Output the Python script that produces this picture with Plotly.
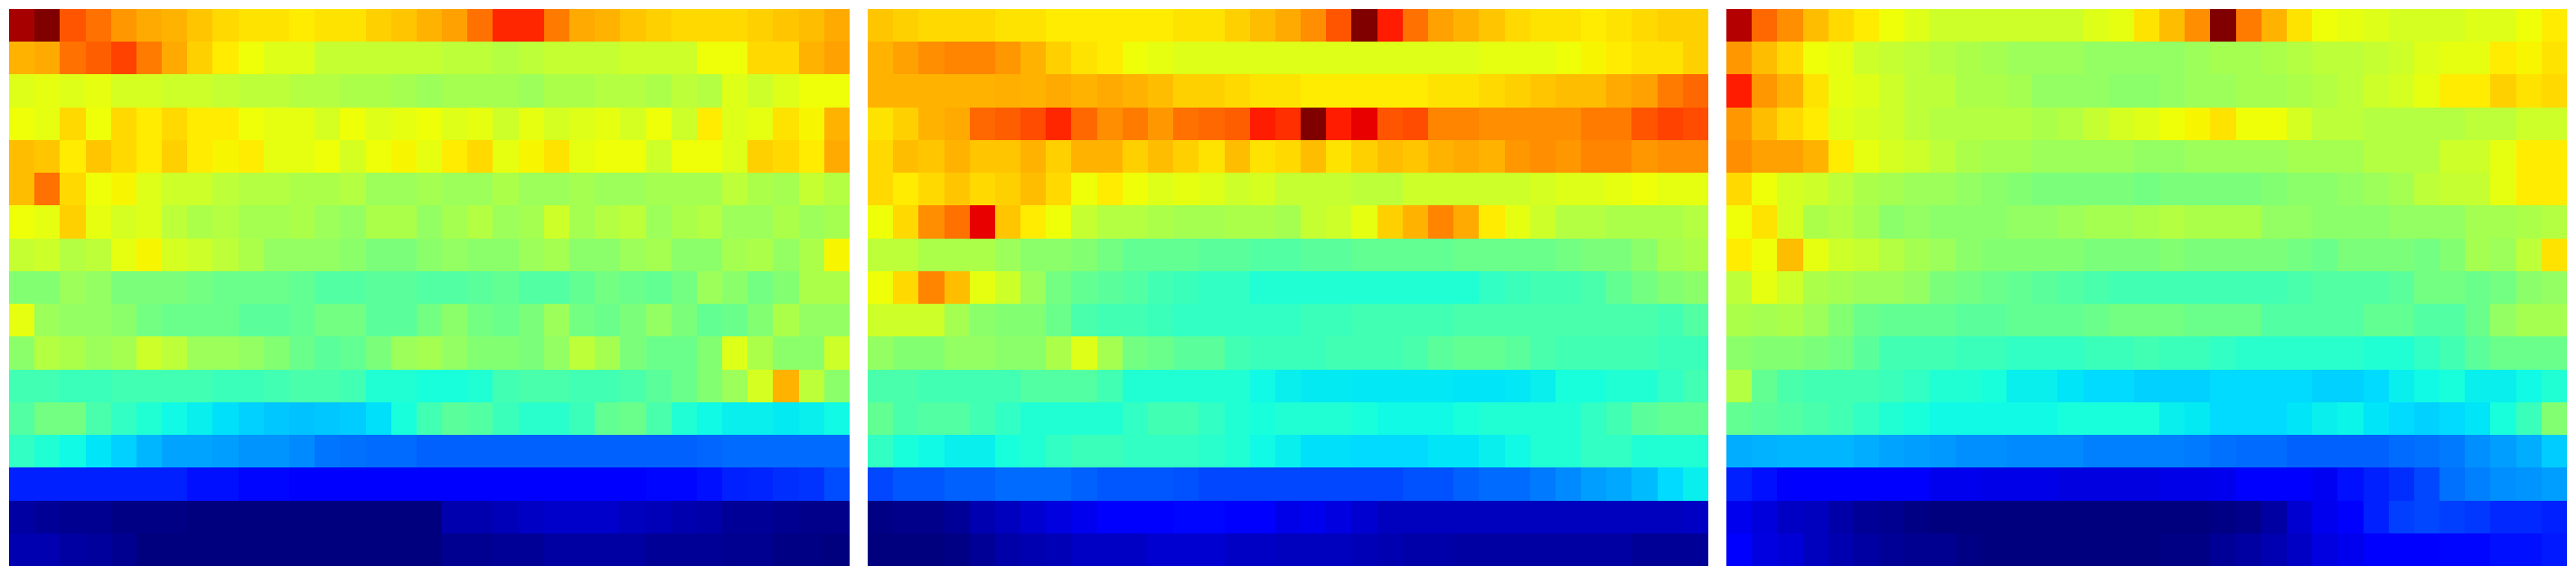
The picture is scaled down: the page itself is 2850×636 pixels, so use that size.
import plotly.graph_objects as go

# Values (0-100 on the colour scale), one row per list.
panel_a = [
 [97,100,82,79,75,73,72,70,68,67,67,66,67,67,69,70,72,74,79,87,87,78,73,72,70,69,68,68,68,69,70,71,73],
 [72,73,79,81,84,78,73,69,66,64,62,62,59,59,59,59,59,58,58,57,58,59,59,59,60,60,60,64,64,68,68,72,74],
 [62,63,62,63,61,61,60,60,59,58,58,57,57,56,56,55,54,55,55,55,54,56,56,57,57,56,58,57,62,60,62,64,64],
 [64,63,68,64,68,66,68,66,66,64,63,63,61,64,62,63,64,62,63,60,63,61,62,63,61,64,60,66,62,63,67,65,72],
 [71,70,66,70,68,66,69,66,65,66,63,63,64,61,64,65,63,66,68,63,65,67,63,64,64,60,64,64,62,69,68,66,73],
 [71,79,68,64,65,62,60,60,58,57,57,56,56,57,54,54,55,54,54,56,54,54,55,54,54,55,55,55,58,56,55,59,57],
 [64,63,69,63,61,62,58,56,57,55,55,56,54,53,56,56,53,55,57,54,55,60,55,57,58,54,56,57,54,54,56,54,55],
 [59,60,57,58,63,65,61,60,58,56,53,53,53,52,50,50,52,53,52,52,54,55,52,52,54,55,52,52,55,56,53,56,65],
 [51,51,54,53,50,50,50,49,48,48,48,47,45,45,46,46,45,45,46,47,45,45,47,49,48,47,49,54,52,49,51,56,56],
 [63,54,53,53,52,49,48,48,48,46,46,47,49,49,46,46,49,52,49,48,50,54,49,48,50,53,50,47,48,51,56,53,53],
 [52,57,56,54,55,60,58,54,54,53,51,48,46,47,50,54,55,53,51,51,50,53,58,55,50,48,48,51,62,56,52,52,60],
 [43,43,42,42,43,43,43,43,42,42,43,44,44,43,39,39,38,38,39,43,44,44,43,43,44,46,48,51,54,61,72,58,52],
 [45,49,49,44,41,39,37,36,34.5,33,32,31.5,32,32.5,34.5,38,43,46,45,42,40,40,42,47,48,44,39,37,36,36,35.5,36,37],
 [41,39,37,35,33,30.5,28.5,28.5,28,27,27,26,24,23.5,23,23,22,22,22,22,22,22,22,22,22,22,22,22.5,23,23,23,23,23],
 [15.6,15.6,15.6,15.6,15.6,15.6,15.6,14,14,13,13,12,12,12,12,12,12,12,12,12,12,12,12,12,12,13,13,14,15.6,16,17,17.5,20],
 [3,2,1.5,1.5,0.5,0.5,0.5,0,0,0,0,0,0,0,0,0,0,4,4,5,6,6.5,6.5,6.5,5.5,5,4,3.5,2,2,1.5,1,1],
 [4.3,4.3,3,2.5,1.5,0,0,0,0,0,0,0,0,0,0,0,0,1.5,1.5,2,2,3,3,3,3,2,2,2,1.5,1.5,0.5,0.5,0],
]

panel_b = [
 [70,69,68,68,68,67,67,66,66,66,66,66,67,67,69,71,73,76,82,100,88,79,74,72,70,68,67,67,66,67,68,69,69],
 [72,74,76,77,77,75,72,69,67,66,64,63,62,62,62,62,62,62,62,62,62,62,62,62,63,63,63,64,65,66,67,67,69],
 [72,72,72,72,72,72.5,72,73,72,73,72,71,69,69,68,67,67,66,66,66,66,66,67,67,68,69,70,71,71,73,74,78,80],
 [67,69,72,73,80,81,83,87,80,76,78,75,79,80,81,88,86,100,88,92,82,83,77,77,76,76,76,76,78,78,82,84,83],
 [68,71,70,72,70,70,72,69,72,72,69,71,69,67,71,67,68,71,67,69,71,70,72,73,72,75,76,75,77,77,75,76,76],
 [68,66,68,70,68,69,71,68,64,66,64,62,63,62,60,61,59,59,59,58,58,60,60,60,60,60,61,62,62,63,64,63,63],
 [64,68,76,79,92,70,66,64,59,57,57,56,55,55,56,56,55,59,60,63,69,72,77,73,66,63,60,57,57,56,56,56,57],
 [58,58,56,56,56,54,52,52,51,49,47,47,47,46,46,45,45,46,46,47,47,47,47,48,48,48,48,49,50,50,52,55,56],
 [64,68,77,71,63,60,54,49,47,46,45,43,42,41,41,39,39,39,39,39,39,39,39,39,41,42,43,43,44,47,49,51,52],
 [60,60,60,55,52,51,51,48,44,43,43,42,41,41,41,41,41,42,42,43,43,43,43,44,44,44,44,44,44,44,44,43,45],
 [53,51,51,53,53,52,52,56,62,55,49,48,46,46,43,42,42,42,43,43,43,44,46,47,47,46,44,43,43,43,43,42,42],
 [44,44,43,43,43,43,45,45,45,43,39,39,39,39,39,37,36,35.5,35.5,35.3,35.3,35.3,35.3,35,35,35.3,36,38,38,39,39,41,43],
 [47,44,45,45,43,41,39,39,39,39,41,43,43,41,39,38,39,39,39,38,37,37,37,38,39,39,39,39,41,43,46,47,47],
 [41,38,37,36,36,38,39,41,42,42,41,41,41,40,39,37,36,34.5,34.5,34,34,34,35,35,36,37,39,39,41,41,39,39,39],
 [19.5,21,21,22,22,23,23,23,22,21,21,21,20.5,19.5,19.5,19.5,19.5,19.5,19.5,19.5,19.5,20.5,20.5,22,23,23,24.5,26,28,29,31,34,36],
 [0.5,1,1,2,4.3,5.5,7,8.3,9.5,11.5,11.5,12,13,13,12,12,9,9.5,8.3,7,5.5,5.5,5.5,5.5,5.5,5.5,5.5,5.5,5.5,5.5,5.5,5.5,6],
 [0,0,0,0.5,2,3.5,4.3,4.8,6,6,6,7,7,7,6,6,5.5,5.5,5.5,4.8,4.3,3.5,3.5,3,3,3,3,3,3,3,2,2,2],
]

panel_c = [
 [96,80,76,71,68,66,64,62,60,60,60,60,60,60,62,63,67,71,76,100,78,72,67,64,63,62,61,61,61,62,62,64,66],
 [75,71,68,64,63,60,59,58,57,56,55,54,54,54,53,53,53,53,54,55,55,56,57,58,58,59,60,62,63,63,66,65,67],
 [88,75,72,67,63,62,60,58,58,56,56,55,53,53,53,52,52,53,54,54,55,55,56,57,58,60,61,63,66,66,69,67,68],
 [75,71,68,66,62,61,60,58,57,57,57,57,56,57,59,61,62,64,65,67,64,64,61,58,58,57,57,57,57,58,58,60,60],
 [76,74,74,72,66,63,61,60,58,56,55,55,54,54,54,54,53,53,54,54,54,54,55,55,55,57,57,57,60,60,63,66,66],
 [68,64,61,60,58,56,55,54,54,53,52,51,50,50,50,50,49,50,50,50,50,51,52,52,53,54,55,58,59,59,63,66,66],
 [64,67,61,56,57,55,52,53,52,52,52,53,53,54,55,55,56,57,56,56,56,53,53,52,52,52,53,53,53,55,55,56,57],
 [66,64,71,63,60,59,57,55,54,52,51,51,51,51,50,50,50,51,50,50,50,50,49,48,50,50,50,49,51,55,54,58,67],
 [58,63,60,56,55,54,54,53,50,49,48,47,46,45,44,43,43,43,43,43,43,43,44,45,45,45,46,49,49,48,49,52,53],
 [56,55,56,54,51,48,47,47,47,46,46,47,47,47,48,49,49,49,48,48,48,45,45,45,45,47,47,45,45,48,53,55,55],
 [52,51,51,50,49,46,43,43,43,42,42,41,41,41,42,42,43,42,42,41,40,40,40,40,40,39,39,41,43,46,48,48,48],
 [57,47,44,43,43,43,42,41,39,39,38,36,36,35,34,34,33,33,33,34,34,34,34,33,33,34,36,37,38,36,36,37,39],
 [47,46,45,44,43,41,39,38,37,37,37,37,37,38,38,38,38,36,35.5,34,34,34,35,36,36.5,35,34,33,34,35,38,42,51],
 [29.5,30,30.5,30.5,30.5,29.5,28.5,28,27.5,26.5,26.5,26,26,26,25,25,25,25,24.5,23.5,23,23,22,22,22,22,23,23.5,24.5,26.5,28,29.5,32.5],
 [15.6,14,12.5,12,12,12,12,12,9.5,9.5,9,9,9,8.3,8.3,8.3,8.3,9,9,9.5,12,12,12,10,14,15.6,17,19.5,23.5,25,26.5,27,28],
 [9.5,8,6,5.5,3.5,2,1.5,0.5,0,0,0,0,0,0,0,0,0,0,0,0.5,1,3,7,9.5,11.5,15.6,18.7,19.5,18.7,18,16.4,16.4,15.6],
 [11,8.3,7.5,5.5,4.3,3,2,1.5,1.5,0.5,0,0,0,0,0,0,0,0.5,0.5,2,3,4.3,6,8.3,9.5,11.5,11.5,12,13,13,14,14,15],
]

panels = [panel_a, panel_b, panel_c]
x_spans = [(10, 940), (960, 1890), (1910, 2840)]

# The classic "jet" colour map
jet = [
    [0.0, "rgb(0,0,127)"], [0.11, "rgb(0,0,255)"], [0.125, "rgb(0,0,255)"],
    [0.34, "rgb(0,219,255)"], [0.35, "rgb(0,229,247)"], [0.375, "rgb(20,255,224)"],
    [0.64, "rgb(238,255,8)"], [0.65, "rgb(247,246,0)"], [0.66, "rgb(255,236,0)"],
    [0.89, "rgb(255,19,0)"], [0.91, "rgb(245,0,0)"], [1.0, "rgb(128,0,0)"],
]

W, H = 2850, 636
fig = go.Figure()
for i, (z, (x0, x1)) in enumerate(zip(panels, x_spans), start=1):
    fig.add_trace(go.Heatmap(z=z, xaxis=f"x{i}", yaxis=f"y{i}", colorscale=jet,
                             zmin=0, zmax=100, showscale=False))
    fig.layout[f"xaxis{i}"] = dict(domain=[x0 / W, x1 / W], visible=False,
                                   showgrid=False, zeroline=False, constrain="domain")
    fig.layout[f"yaxis{i}"] = dict(domain=[10 / H, 626 / H], visible=False,
                                   showgrid=False, zeroline=False, autorange="reversed")

fig.update_layout(width=W, height=H, autosize=False,
                  margin=dict(l=0, r=0, t=0, b=0),
                  paper_bgcolor="white", plot_bgcolor="white")

fig.write_html("out.html", config={"displayModeBar": False},
               post_script="document.body.style.margin='0';document.body.style.overflow='hidden';")
